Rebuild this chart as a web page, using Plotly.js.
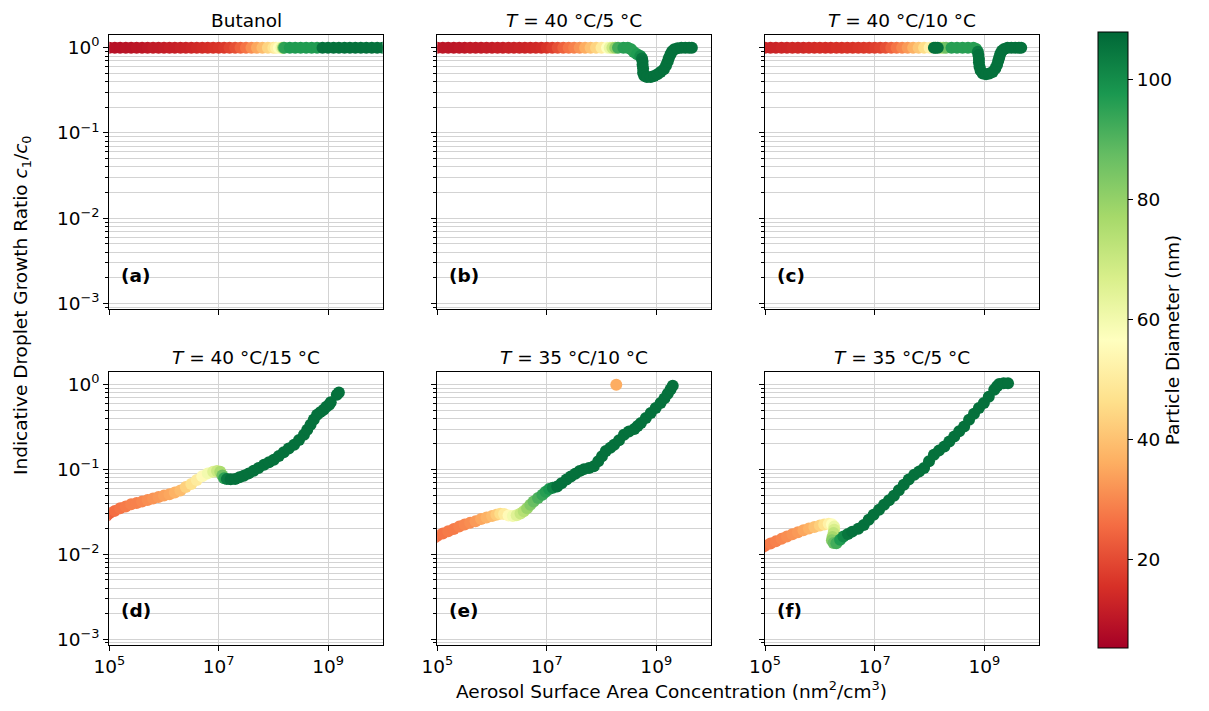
<!DOCTYPE html>
<html>
<head>
<meta charset="utf-8">
<script src="https://cdn.plot.ly/plotly-3.0.1.min.js"></script>
<style>html,body{margin:0;padding:0;background:#fff;}#chart{width:1209px;height:711px;}</style>
</head>
<body>
<div id="chart"></div>
<script>
// ---------- data ----------
const panelTitles = ["Butanol", "<i>T</i> = 40 °C/5 °C", "<i>T</i> = 40 °C/10 °C",
                     "<i>T</i> = 40 °C/15 °C", "<i>T</i> = 35 °C/10 °C", "<i>T</i> = 35 °C/5 °C"];
const panelLabels = ["(a)", "(b)", "(c)", "(d)", "(e)", "(f)"];

const xTickVals = [1e5, 1e7, 1e9];
const xTickText = ["10<sup>5</sup>", "10<sup>7</sup>", "10<sup>9</sup>"];
const yTickVals = [1e-3, 1e-2, 1e-1, 1];
const yTickText = ["10<sup>−3</sup>", "10<sup>−2</sup>", "10<sup>−1</sup>", "10<sup>0</sup>"];
const yMinorVals = [9e-4, 2e-3, 3e-3, 4e-3, 5e-3, 6e-3, 7e-3, 8e-3, 9e-3,
                    2e-2, 3e-2, 4e-2, 5e-2, 6e-2, 7e-2, 8e-2, 9e-2,
                    2e-1, 3e-1, 4e-1, 5e-1, 6e-1, 7e-1, 8e-1, 9e-1];
const cbTickVals = [20, 40, 60, 80, 100];

// (a) Butanol
const aX = [1.00e5,1.26e5,1.58e5,2.00e5,2.51e5,3.16e5,3.98e5,5.01e5,6.31e5,7.94e5,
            1.00e6,1.26e6,1.58e6,2.00e6,2.51e6,3.16e6,3.98e6,5.01e6,6.31e6,7.94e6,
            1.00e7,1.26e7,1.58e7,2.00e7,2.51e7,3.16e7,3.98e7,5.01e7,6.31e7,7.94e7,
            1.00e8,1.12e8,1.26e8,1.41e8,1.51e8,1.58e8,2.00e8,2.51e8,3.16e8,3.98e8,5.01e8,6.31e8,
            7.94e8,1.00e9,1.26e9,1.58e9,2.00e9,2.51e9,3.16e9,3.98e9,5.01e9,6.31e9,7.94e9,1.00e10];
const aY = [1,1,1,1,1,1,1,1,1,1, 1,1,1,1,1,1,1,1,1,1, 1,1,1,1,1,1,1,1,1,1,
            1,1,1,1,1,1,1,1,1,1,1,1, 1,1,1,1,1,1,1,1,1,1,1,1];
const aD = [9,9,9,9.5,9.5,10,10,10.5,11,11,
            11.5,12,12,12.5,13,13.5,14,14.5,15,15.5,
            16,17,19,21,24,27,31,35,39,44,
            48,52,56,62,80,95,97,97,97,97,97,97,
            106,106,106,106,106,106,106,106,106,106,106,106];

// (b) T = 40/5
const bX = [1.00e5,1.26e5,1.58e5,2.00e5,2.51e5,3.16e5,3.98e5,5.01e5,6.31e5,7.94e5,
            1.00e6,1.26e6,1.58e6,2.00e6,2.51e6,3.16e6,3.98e6,5.01e6,6.31e6,7.94e6,
            1.00e7,1.26e7,1.58e7,2.00e7,2.51e7,3.16e7,3.98e7,5.01e7,6.31e7,7.94e7,
            1.00e8,1.26e8,1.41e8,1.58e8,1.78e8,2.00e8,2.51e8,3.02e8,3.47e8,
            3.89e8,4.47e8,5.13e8,5.50e8,5.62e8,5.62e8,5.75e8,5.75e8,6.03e8,6.76e8,
            7.94e8,9.12e8,1.05e9,1.20e9,1.38e9,1.51e9,1.62e9,1.70e9,1.82e9,1.95e9,
            2.14e9,2.45e9,2.88e9,3.39e9,3.98e9,4.47e9];
const bY = [1,1,1,1,1,1,1,1,1,1, 1,1,1,1,1,1,1,1,1,1, 1,1,1,1,1,1,1,1,1,1,
            1,1,1,1,1,1,1,1,0.96,
            0.89,0.84,0.80,0.75,0.69,0.63,0.57,0.51,0.47,0.455,
            0.455,0.465,0.49,0.52,0.56,0.62,0.69,0.76,0.84,0.91,
            0.96,0.99,1,1,1,1];
const bD = [10,10,10,10,10.5,10.5,11,11,11,11.5,
            11.5,12,12,12.5,12.5,13,13,13.5,14,14.5,
            16,18,21,24,27,29,32,36,40,44,
            50,57,62,70,80,92,96,96,96,
            96,97,100,105,106,106,106,106,106,106,
            106,106,106,106,106,106,106,106,106,106,
            106,106,106,106,106,106];

// (c) T = 40/10
const cX = [1.00e5,1.26e5,1.58e5,2.00e5,2.51e5,3.16e5,3.98e5,5.01e5,6.31e5,7.94e5,
            1.00e6,1.26e6,1.58e6,2.00e6,2.51e6,3.16e6,3.98e6,5.01e6,6.31e6,7.94e6,
            1.00e7,1.26e7,1.58e7,2.00e7,2.51e7,3.16e7,3.98e7,5.01e7,6.31e7,7.94e7,
            1.00e8,1.26e8,1.58e8,1.78e8,2.00e8,2.51e8,3.16e8,3.98e8,5.01e8,6.31e8,7.08e8,
            7.59e8,7.76e8,7.94e8,7.94e8,8.13e8,8.51e8,9.33e8,1.07e9,1.23e9,1.41e9,
            1.58e9,1.70e9,1.78e9,1.86e9,1.95e9,2.09e9,2.29e9,2.63e9,3.09e9,3.63e9,
            4.27e9,4.68e9,
            1.20e8,1.29e8,1.41e8];
const cY = [1,1,1,1,1,1,1,1,1,1, 1,1,1,1,1,1,1,1,1,1, 1,1,1,1,1,1,1,1,1,1,
            1,1,1,1,1,1,1,1,1,1,0.97,
            0.90,0.82,0.74,0.67,0.60,0.54,0.50,0.49,0.50,0.52,
            0.57,0.63,0.70,0.77,0.85,0.92,0.97,1,1,1,
            1,1,
            1,1,1];
const cD = [13,13,13,13.5,13.5,14,14,14,14.5,14.5,
            15,15,15,15.5,15.5,16,16,16.5,17,17.5,
            18,19,21,24,27,30,33,37,41,46,
            52,60,72,80,86,96,96,96,96,96,96,
            104,106,106,106,106,106,106,106,106,106,
            106,106,106,106,106,106,106,106,106,106,
            106,106,
            106,106,106];

// (d) T = 40/15
const dX = [8.9e4,
            1.00e5,1.26e5,1.58e5,2.00e5,2.51e5,3.16e5,3.98e5,5.01e5,6.31e5,7.94e5,
            1.00e6,1.26e6,1.58e6,2.00e6,2.51e6,3.16e6,3.98e6,5.01e6,6.31e6,7.94e6,
            9.33e6,1.07e7,1.17e7,1.26e7,1.41e7,1.66e7,2.00e7,2.40e7,2.88e7,3.55e7,
            4.37e7,5.37e7,6.76e7,8.32e7,1.02e8,1.26e8,1.55e8,1.91e8,2.40e8,2.95e8,
            3.63e8,4.17e8,4.79e8,5.50e8,6.31e8,7.24e8,8.32e8,9.33e8,1.05e9,1.12e9,
            1.45e9,1.58e9];
const dY = [0.0285,
            0.0305,0.0325,0.035,0.0365,0.0388,0.0402,0.0418,0.0438,0.0455,0.0475,
            0.0492,0.0512,0.0535,0.0565,0.062,0.0675,0.075,0.083,0.09,0.094,
            0.096,0.094,0.085,0.079,0.077,0.0765,0.0775,0.081,0.0845,0.09,
            0.0966,0.104,0.114,0.122,0.130,0.144,0.160,0.177,0.196,0.223,
            0.257,0.295,0.337,0.39,0.442,0.475,0.507,0.55,0.58,0.62,
            0.76,0.81];
const dD = [23,
            24,26,27,28,29,29,30,31,32,33,
            34,35,37,39,43,47,50,55,60,65,
            70,76,86,95,104,106,106,106,106,106,
            106,106,106,106,106,106,106,106,106,106,
            106,106,106,106,106,106,106,106,106,106,
            106,106];

// (e) T = 35/10
const eX = [8.9e4,
            1.00e5,1.26e5,1.58e5,2.00e5,2.51e5,3.16e5,3.98e5,5.01e5,6.31e5,7.94e5,
            1.00e6,1.20e6,1.41e6,1.66e6,2.00e6,2.40e6,2.82e6,3.31e6,3.80e6,4.37e6,
            5.01e6,5.75e6,6.92e6,8.32e6,9.55e6,1.10e7,1.29e7,1.55e7,1.86e7,2.29e7,
            2.75e7,3.31e7,3.98e7,4.79e7,5.89e7,7.24e7,8.71e7,1.02e8,1.20e8,1.45e8,
            1.70e8,2.09e8,2.57e8,3.16e8,3.98e8,4.57e8,5.25e8,6.46e8,7.94e8,9.77e8,
            1.20e9,1.41e9,1.62e9,1.82e9,2.00e9,
            1.86e8];
const eY = [0.0158,
            0.0165,0.0176,0.0187,0.0199,0.0212,0.0225,0.0235,0.0246,0.026,0.0272,
            0.0282,0.0292,0.030,0.0298,0.0287,0.0283,0.0288,0.0302,0.0322,0.035,
            0.0385,0.0419,0.046,0.0503,0.0545,0.0587,0.061,0.063,0.069,0.076,
            0.0827,0.089,0.096,0.101,0.104,0.109,0.125,0.143,0.165,0.18,
            0.196,0.222,0.257,0.28,0.30,0.325,0.353,0.405,0.463,0.53,
            0.608,0.69,0.783,0.88,0.97,
            1.0];
const eD = [25,
            26,27,28,28,29,30,31,33,35,37,
            39,42,46,50,55,60,65,70,74,79,
            83,87,91,94,96,98,102,106,106,106,
            106,106,106,106,106,106,106,106,106,106,
            106,106,106,106,106,106,106,106,106,106,
            106,106,106,106,106,
            36];

// (f) T = 35/5
const fX = [8.9e4,
            1.00e5,1.26e5,1.58e5,2.00e5,2.51e5,3.16e5,3.98e5,5.01e5,6.31e5,7.94e5,
            1.00e6,1.20e6,1.45e6,1.66e6,1.82e6,1.82e6,1.78e6,1.70e6,1.66e6,1.78e6,
            2.00e6,2.34e6,2.69e6,3.24e6,3.89e6,5.01e6,6.31e6,7.76e6,9.55e6,1.20e7,
            1.48e7,1.82e7,2.24e7,2.75e7,3.39e7,4.17e7,5.25e7,6.46e7,7.94e7,9.77e7,
            1.20e8,1.48e8,1.86e8,2.29e8,2.82e8,3.47e8,4.27e8,5.25e8,6.46e8,7.94e8,
            9.77e8,1.20e9,1.51e9,1.70e9,1.86e9,2.24e9,2.69e9];
const fY = [0.0121,
            0.0126,0.0134,0.0142,0.0152,0.0162,0.0172,0.0182,0.0192,0.0201,0.021,
            0.0219,0.0225,0.0229,0.0226,0.0212,0.0195,0.0178,0.0160,0.0146,0.0136,
            0.0135,0.0148,0.0162,0.0174,0.0185,0.0200,0.0222,0.0255,0.0292,0.0336,
            0.0383,0.0435,0.049,0.057,0.066,0.076,0.0865,0.095,0.104,0.125,
            0.149,0.167,0.187,0.214,0.245,0.282,0.322,0.385,0.455,0.53,
            0.608,0.72,0.873,0.96,1.02,1.04,1.04];
const fD = [26,
            27,28,29,30,31,32,33,35,37,40,
            43,47,52,57,62,67,72,77,82,87,
            92,97,101,105,106,106,106,106,106,106,
            106,106,106,106,106,106,106,106,106,106,
            106,106,106,106,106,106,106,106,106,106,
            106,106,106,106,106,106,106];

// ---------- styling ----------
const RdYlGn = [[0.0,'rgb(165,0,38)'],[0.1,'rgb(215,48,39)'],[0.2,'rgb(244,109,67)'],
                [0.3,'rgb(253,174,97)'],[0.4,'rgb(254,224,139)'],[0.5,'rgb(255,255,191)'],
                [0.6,'rgb(217,239,139)'],[0.7,'rgb(166,217,106)'],[0.8,'rgb(102,189,99)'],
                [0.9,'rgb(26,152,80)'],[1.0,'rgb(0,104,55)']];
const FONT = "DejaVu Sans, Liberation Sans, sans-serif";
const FS = 18.5;
const W = 1209, H = 711;
const colL = [109.3, 437.3, 765.0], colR = [382.7, 711.0, 1039.3];
const rowT = [35.0, 372.0], rowB = [309.3, 645.0];
const GRID = '#d3d3d3';

const panels = [[aX,aY,aD],[bX,bY,bD],[cX,cY,cD],[dX,dY,dD],[eX,eY,eD],[fX,fY,fD]];
const traces = [];
const layout = {
  width: W, height: H, margin: {l:0, r:0, t:0, b:0},
  paper_bgcolor: '#ffffff', plot_bgcolor: '#ffffff',
  font: {family: FONT, size: FS, color: '#000'},
  showlegend: false, hovermode: false,
  annotations: []
};

panels.forEach((p, i) => {
  const col = i % 3, row = Math.floor(i / 3);
  const sfx = i === 0 ? '' : String(i + 1);
  traces.push({
    type: 'scatter', mode: 'markers',
    x: p[0], y: p[1],
    xaxis: 'x' + sfx, yaxis: 'y' + sfx,
    cliponaxis: true,
    marker: {
      color: p[2], colorscale: RdYlGn, cmin: 5.3, cmax: 108,
      size: 12, opacity: 1, line: {width: 0},
      showscale: i === 0,
      colorbar: {
        x: 1098 / W, xanchor: 'left', xpad: 0,
        y: 1 - 340 / H, yanchor: 'middle', ypad: 0,
        len: 616 / H, lenmode: 'fraction',
        thickness: 30, thicknessmode: 'pixels',
        outlinewidth: 1, outlinecolor: '#000',
        ticks: 'outside', ticklen: 5, tickwidth: 1, tickcolor: '#000',
        tickmode: 'array', tickvals: cbTickVals,
        tickfont: {family: FONT, size: FS, color: '#000'},
        title: {text: 'Particle Diameter (nm)', side: 'right',
                font: {family: FONT, size: FS, color: '#000'}}
      }
    }
  });
  layout['xaxis' + sfx] = {
    type: 'log', range: [5, 10], autorange: false,
    domain: [colL[col] / W, colR[col] / W], anchor: 'y' + sfx,
    tickmode: 'array', tickvals: xTickVals, ticktext: xTickText,
    showticklabels: row === 1,
    ticks: 'outside', ticklen: 5, tickwidth: 1, tickcolor: '#000',
    showline: true, linecolor: '#000', linewidth: 1, mirror: true,
    showgrid: true, gridcolor: GRID, gridwidth: 1, zeroline: false,
    tickfont: {family: FONT, size: FS, color: '#000'}
  };
  layout['yaxis' + sfx] = {
    type: 'log', range: [-3.07, 0.15], autorange: false,
    domain: [1 - rowB[row] / H, 1 - rowT[row] / H], anchor: 'x' + sfx,
    tickmode: 'array', tickvals: yTickVals, ticktext: yTickText,
    showticklabels: col === 0,
    ticks: 'outside', ticklen: 5, tickwidth: 1, tickcolor: '#000',
    minor: {tickmode: 'array', tickvals: yMinorVals, ticks: 'outside', ticklen: 3,
            tickwidth: 1, tickcolor: '#000', showgrid: true, gridcolor: GRID, gridwidth: 1},
    showline: true, linecolor: '#000', linewidth: 1, mirror: true,
    showgrid: true, gridcolor: GRID, gridwidth: 1, zeroline: false,
    tickfont: {family: FONT, size: FS, color: '#000'}
  };
  // subplot title
  layout.annotations.push({
    text: panelTitles[i], xref: 'paper', yref: 'paper',
    x: (colL[col] + colR[col]) / 2 / W, y: 1 - (rowT[row] - 15) / H,
    xanchor: 'center', yanchor: 'middle', showarrow: false,
    font: {family: FONT, size: FS, color: '#000'}
  });
  // panel letter
  layout.annotations.push({
    text: '<b>' + panelLabels[i] + '</b>',
    xref: 'x' + sfx + ' domain', yref: 'y' + sfx + ' domain',
    x: 0.035, y: 0.125, xanchor: 'left', yanchor: 'middle', showarrow: false,
    font: {family: FONT, size: FS, color: '#000'}
  });
});

// shared axis labels
layout.annotations.push({
  text: 'Aerosol Surface Area Concentration (nm<sup>2</sup>/cm<sup>3</sup>)',
  xref: 'paper', yref: 'paper', x: 671 / W, y: 1 - 690 / H,
  xanchor: 'center', yanchor: 'middle', showarrow: false,
  font: {family: FONT, size: FS, color: '#000'}
});
layout.annotations.push({
  text: 'Indicative Droplet Growth Ratio <i>c</i><sub>1</sub>/<i>c</i><sub>0</sub>',
  xref: 'paper', yref: 'paper', x: 22 / W, y: 1 - 305 / H,
  xanchor: 'center', yanchor: 'middle', textangle: -90, showarrow: false,
  font: {family: FONT, size: FS, color: '#000'}
});

Plotly.newPlot('chart', traces, layout, {staticPlot: true, displayModeBar: false});
</script>
</body>
</html>
